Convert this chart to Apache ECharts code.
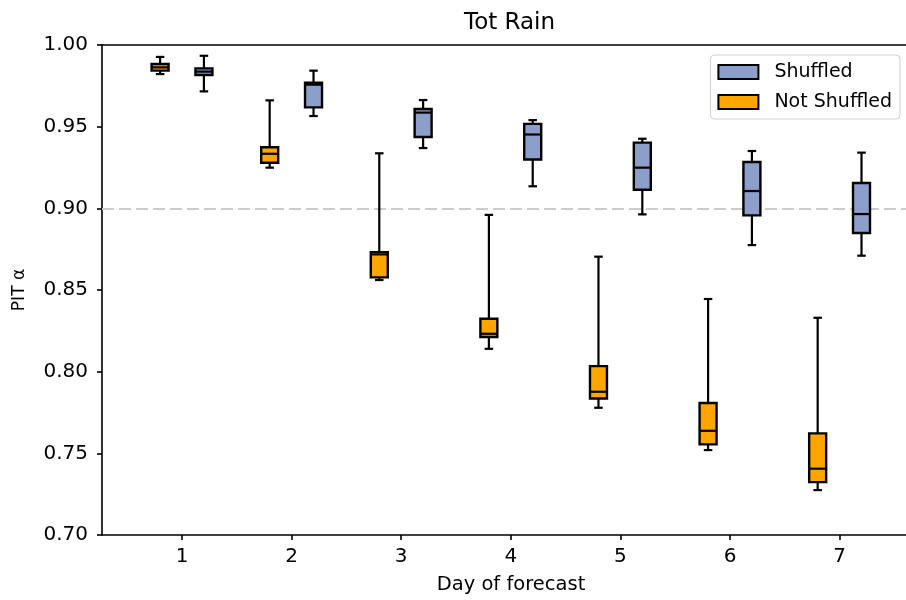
<!DOCTYPE html>
<html>
<head>
<meta charset="utf-8">
<script src="https://cdn.jsdelivr.net/npm/echarts@6/dist/echarts.min.js"></script>
<style>html,body{margin:0;padding:0;background:#fff;}#c{width:906px;height:600px;}</style>
</head>
<body>
<div id="c"></div>
<script>
const days = [1, 2, 3, 4, 5, 6, 7];
const yTicks = [0.70, 0.75, 0.80, 0.85, 0.90, 0.95, 1.00];
// Not Shuffled (orange)
const notShuffledLow  = [0.9822, 0.9249, 0.8561, 0.8140, 0.7779, 0.7520, 0.7275];
const notShuffledQ1   = [0.9843, 0.9279, 0.8577, 0.8212, 0.7836, 0.7555, 0.7324];
const notShuffledMed  = [0.9863, 0.9334, 0.8718, 0.8232, 0.7877, 0.7638, 0.7406];
const notShuffledQ3   = [0.9884, 0.9374, 0.8732, 0.8324, 0.8034, 0.7808, 0.7622];
const notShuffledHigh = [0.9927, 0.9661, 0.9337, 0.8960, 0.8704, 0.8445, 0.8330];
// Shuffled (blue)
const shuffledLow  = [0.9716, 0.9565, 0.9369, 0.9135, 0.8963, 0.8775, 0.8710];
const shuffledQ1   = [0.9816, 0.9618, 0.9437, 0.9299, 0.9114, 0.8957, 0.8849];
const shuffledMed  = [0.9837, 0.9757, 0.9586, 0.9452, 0.9249, 0.9106, 0.8965];
const shuffledQ3   = [0.9857, 0.9769, 0.9608, 0.9517, 0.9402, 0.9284, 0.9155];
const shuffledHigh = [0.9934, 0.9843, 0.9663, 0.9540, 0.9426, 0.9351, 0.9341];
const refLine = 0.90;

const FONT = 'DejaVu Sans';
const OFFSET = 0.2, BOXW = 0.155;
const BLUE = '#8c9fca', ORANGE = '#ffa500';

function build(off, lo, q1, med, q3, hi) {
  return days.map((d, i) => [d + off, lo[i], q1[i], med[i], q3[i], hi[i]]);
}

function renderBox(params, api) {
  const x = api.value(0);
  const pLo = api.coord([x, api.value(1)]);
  const pQ1 = api.coord([x, api.value(2)]);
  const pMed = api.coord([x, api.value(3)]);
  const pQ3 = api.coord([x, api.value(4)]);
  const pHi = api.coord([x, api.value(5)]);
  const w = api.size([BOXW, 0])[0];
  const cx = pQ1[0];
  const lineStyle = {stroke: '#000', lineWidth: 2.2, fill: null};
  const fill = api.visual('color');
  return {
    type: 'group',
    children: [
      {type: 'line', shape: {x1: cx, y1: pHi[1], x2: cx, y2: pQ3[1]}, style: lineStyle},
      {type: 'line', shape: {x1: cx, y1: pQ1[1], x2: cx, y2: pLo[1]}, style: lineStyle},
      {type: 'line', shape: {x1: cx - w / 4, y1: pHi[1], x2: cx + w / 4, y2: pHi[1]}, style: lineStyle},
      {type: 'line', shape: {x1: cx - w / 4, y1: pLo[1], x2: cx + w / 4, y2: pLo[1]}, style: lineStyle},
      {type: 'rect', shape: {x: cx - w / 2, y: pQ3[1], width: w, height: pQ1[1] - pQ3[1]},
        style: {fill: fill, stroke: '#000', lineWidth: 2.4}},
      {type: 'line', shape: {x1: cx - w / 2, y1: pMed[1], x2: cx + w / 2, y2: pMed[1]}, style: lineStyle}
    ]
  };
}

const chart = echarts.init(document.getElementById('c'), null, {renderer: 'canvas'});
const xMin = 0.27, xMax = 7.606;
chart.setOption({
  animation: false,
  backgroundColor: '#fff',
  textStyle: {fontFamily: FONT},
  title: {
    text: 'Tot Rain', left: 459, top: 7,
    textStyle: {fontFamily: FONT, fontSize: 23, fontWeight: 'normal', color: '#000'}
  },
  legend: {
    orient: 'vertical', right: 6, top: 55,
    backgroundColor: '#fff', borderColor: '#d0d0d0', borderWidth: 1, borderRadius: 4,
    padding: [7, 8, 7, 7], itemGap: 10, itemWidth: 40, itemHeight: 14,
    icon: 'rect',
    textStyle: {fontFamily: FONT, fontSize: 19, color: '#000', lineHeight: 20, padding: [0, 0, 0, 11]},
    data: [
      {name: 'Shuffled', itemStyle: {color: BLUE, borderColor: '#000', borderWidth: 2}},
      {name: 'Not Shuffled', itemStyle: {color: ORANGE, borderColor: '#000', borderWidth: 2}}
    ]
  },
  grid: {left: 102, right: 0, top: 45, bottom: 65, containLabel: false},
  xAxis: [{
    type: 'value', min: xMin, max: xMax, position: 'bottom',
    name: 'Day of forecast', nameLocation: 'middle', nameGap: 40,
    nameTextStyle: {fontFamily: FONT, fontSize: 19.5, color: '#000', padding: [0, 0, 0, 14]},
    axisLine: {show: true, onZero: false, lineStyle: {color: '#000', width: 1.6}},
    axisTick: {show: true, length: 5, customValues: days, lineStyle: {color: '#000', width: 1.6}},
    axisLabel: {customValues: days, margin: 12, fontFamily: FONT, fontSize: 20, color: '#000',
      formatter: v => String(Math.round(v))},
    splitLine: {show: false}
  }, {
    type: 'value', min: xMin, max: xMax, position: 'top',
    axisLine: {show: true, onZero: false, lineStyle: {color: '#000', width: 1.6}},
    axisTick: {show: false}, axisLabel: {show: false}, splitLine: {show: false}
  }],
  yAxis: {
    type: 'value', min: 0.70, max: 1.00, interval: 0.05,
    name: 'PIT α', nameLocation: 'middle', nameGap: 74, nameRotate: 90,
    nameTextStyle: {fontFamily: FONT, fontSize: 17, color: '#000'},
    axisLine: {show: true, onZero: false, lineStyle: {color: '#000', width: 1.6}},
    axisTick: {show: true, length: 5, lineStyle: {color: '#000', width: 1.6}},
    axisLabel: {margin: 14, fontFamily: FONT, fontSize: 20, color: '#000',
      formatter: v => v.toFixed(2)},
    splitLine: {show: false}
  },
  series: [
    {
      name: 'Shuffled', type: 'custom', renderItem: renderBox,
      itemStyle: {color: BLUE},
      encode: {x: 0, y: [1, 2, 3, 4, 5]},
      data: build(OFFSET, shuffledLow, shuffledQ1, shuffledMed, shuffledQ3, shuffledHigh),
      markLine: {
        silent: true, symbol: 'none', label: {show: false},
        lineStyle: {color: '#cccccc', type: [12, 5], width: 2.2},
        data: [{yAxis: refLine}], z: 1
      },
      z: 3
    },
    {
      name: 'Not Shuffled', type: 'custom', renderItem: renderBox,
      itemStyle: {color: ORANGE},
      encode: {x: 0, y: [1, 2, 3, 4, 5]},
      data: build(-OFFSET, notShuffledLow, notShuffledQ1, notShuffledMed, notShuffledQ3, notShuffledHigh),
      z: 3
    }
  ]
});
</script>
</body>
</html>
